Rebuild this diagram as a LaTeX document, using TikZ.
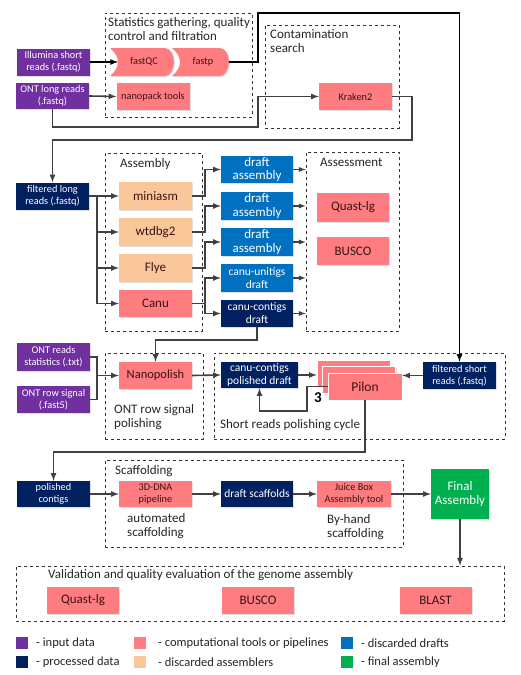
\documentclass[tikz,border=0pt]{standalone}
\usepackage{fontspec}
\setmainfont{Carlito}
\usetikzlibrary{shadows}
\definecolor{inputc}{HTML}{7030A0}
\definecolor{procc}{HTML}{002060}
\definecolor{toolc}{HTML}{FF7C80}
\definecolor{asmc}{HTML}{F9C79A}
\definecolor{draftc}{HTML}{0070C0}
\definecolor{finalc}{HTML}{00B050}
\definecolor{linec}{HTML}{404040}
\definecolor{tooltext}{HTML}{3A1414}
\newcommand{\fsmall}{\fontsize{10.3}{12}\selectfont}
\newcommand{\fmid}{\fontsize{11.5}{13}\selectfont}
\newcommand{\fbig}{\fontsize{13}{14}\selectfont}
\tikzset{
  box/.style={minimum width=73, minimum height=27, inner sep=0.5pt, align=center,
    drop shadow={shadow xshift=1pt, shadow yshift=-1pt, opacity=0.25}},
  inbox/.style={box, fill=inputc, text=white, font=\fsmall},
  procbox/.style={box, fill=procc, text=white, font=\fsmall},
  toolbox/.style={box, fill=toolc, text=tooltext, font=\fmid},
  asmbox/.style={box, fill=asmc, text=tooltext, font=\fbig},
  draftbox/.style={box, fill=draftc, text=white, font=\fbig},
  finalbox/.style={box, fill=finalc, text=white, font=\fbig},
  grp/.style={draw=black!80, dashed, line width=0.9pt, inner sep=0pt},
  grptitle/.style={anchor=north west, align=left, inner sep=0pt, font=\fbig, text=black!85},
  conn/.style={draw=linec, line width=1.6pt, -latex},
  legsq/.style={minimum size=12, inner sep=0pt},
  legtext/.style={anchor=west, inner sep=0pt, font=\fontsize{12.5}{14}\selectfont, text=black!85},
}
\begin{document}
\begin{tikzpicture}[x=1pt,y=-1pt]
\useasboundingbox[fill=white] (0,0) rectangle (520,675);
% groups
\node[grp, minimum width=147, minimum height=104] (statgrp) at (178.5,65) {};
\node[grptitle] (stattitle) at (108,17) {Statistics gathering, quality\\control and filtration};
\node[grp, minimum width=134, minimum height=103] (contgrp) at (332,76.5) {};
\node[grptitle] (conttitle) at (270,29) {Contamination\\search};
\node[grp, minimum width=97, minimum height=178] (asmgrp) at (153.5,242) {};
\node[grptitle] (asmtitle) at (120,158) {Assembly};
\node[grp, minimum width=93, minimum height=179] (assgrp) at (352.5,241.5) {};
\node[grptitle] (asstitle) at (320,158) {Assessment};
\node[grp, minimum width=98, minimum height=86] (npgrp) at (154,396) {};
\node[grptitle] (nptitle) at (114,404) {ONT row signal\\polishing};
\node[grp, minimum width=291, minimum height=86] (srgrp) at (359.5,396) {};
\node[grptitle] (srtitle) at (220,419) {Short reads polishing cycle};
\node[grp, minimum width=298, minimum height=87] (scafgrp) at (254,503.5) {};
\node[grptitle] (scaftitle) at (115,465) {Scaffolding};
\node[grp, minimum width=488, minimum height=55] (valgrp) at (260,593.5) {};
\node[grptitle] (valtitle) at (48,569) {Validation and quality evaluation of the genome assembly};

% statistics and filtration
\node[inbox] (ill) at (53.5,62) {Illumina short\\reads (.fastq)};
\node[inbox, minimum height=26] (ontl) at (52.5,96) {ONT long reads\\(.fastq)};
\fill[toolc, drop shadow={shadow xshift=1pt, shadow yshift=-1pt, opacity=0.25}]
  (110,48) -- (165,48) .. controls (170,48) and (174,55) .. (174,62)
  .. controls (174,69) and (170,76) .. (165,76) -- (110,76)
  .. controls (115,72) and (118,67) .. (118,62) .. controls (118,57) and (115,52) .. (110,48) -- cycle;
\fill[toolc, drop shadow={shadow xshift=1pt, shadow yshift=-1pt, opacity=0.25}]
  (172,48) -- (220,48) .. controls (225,48) and (229,55) .. (229,62)
  .. controls (229,69) and (225,76) .. (220,76) -- (172,76)
  .. controls (177,72) and (180,67) .. (180,62) .. controls (180,57) and (177,52) .. (172,48) -- cycle;
\node[font=\fsmall, text=tooltext] (fastqc) at (144,62) {fastQC};
\node[font=\fsmall, text=tooltext] (fastp) at (203,62) {fastp};
\coordinate (fastpout) at (229,62);
\coordinate (fastqcin) at (118,62);
\node[toolbox, font=\fsmall] (nanopack) at (153,96.5) {nanopack tools};
\node[toolbox, font=\fsmall] (kraken) at (355.5,96.5) {Kraken2};

% assembly
\node[procbox] (flong) at (52.5,196) {filtered long\\reads (.fastq)};
\node[asmbox, minimum height=28] (miniasm) at (155.5,196) {miniasm};
\node[asmbox, minimum height=28] (wtdbg) at (155.5,232) {wtdbg2};
\node[asmbox, minimum height=28] (flye) at (155.5,268) {Flye};
\node[toolbox, font=\fbig] (canu) at (155.5,303.5) {Canu};
\node[draftbox, minimum width=72, font=\fontsize{13}{13.5}\selectfont] (drafta) at (257,169.5) {draft\\assembly};
\node[draftbox, minimum width=72, minimum height=28, font=\fontsize{13}{13.5}\selectfont] (draftb) at (257,206) {draft\\assembly};
\node[draftbox, minimum width=72, minimum height=28, font=\fontsize{13}{13.5}\selectfont] (draftc) at (257,242) {draft\\assembly};
\node[draftbox, minimum width=72, minimum height=28, font=\fmid] (unitigs) at (257,278) {canu-unitigs\\draft};
\node[procbox, minimum width=72, font=\fmid] (contigs) at (257,313.5) {canu-contigs\\draft};
\node[toolbox, font=\fbig, minimum width=72, minimum height=29] (quasta) at (353,207.5) {Quast-lg};
\node[toolbox, font=\fbig, minimum width=72, minimum height=28] (buscoa) at (353,251) {BUSCO};

% polishing
\node[inbox, minimum height=28] (stats) at (53.5,357) {ONT reads\\statistics (.txt)};
\node[inbox] (signal) at (53.5,399.5) {ONT row signal\\(.fast5)};
\node[toolbox, font=\fontsize{12.5}{14}\selectfont] (npolish) at (155.5,375.5) {Nanopolish};
\node[procbox, minimum width=77, minimum height=26, font=\fmid] (pdraft) at (259.5,375) {canu-contigs\\polished draft};
\node[toolbox, draw=white, line width=0.6pt] (pilona) at (353.5,373.5) {};
\node[toolbox, draw=white, line width=0.6pt] (pilonb) at (359,380) {};
\node[toolbox, draw=white, line width=0.6pt, minimum width=74, font=\fontsize{13.5}{14}\selectfont] (pilonc) at (365,386.5) {Pilon};
\node[procbox] (fshort) at (459.5,375.5) {filtered short\\reads (.fastq)};
\node[font=\bfseries\fontsize{15}{15}\selectfont, inner sep=0pt] (cycles) at (318,398) {3};

% scaffolding
\node[procbox, minimum height=26] (pcontigs) at (53.5,494) {polished\\contigs};
\node[toolbox, minimum height=26, font=\fsmall] (dna) at (155.5,494) {3D-DNA\\pipeline};
\node[procbox, minimum width=72, minimum height=26, font=\fmid] (dscaf) at (257,494) {draft scaffolds};
\node[toolbox, minimum width=74, minimum height=26, font=\fsmall] (juice) at (354,494) {Juice Box\\Assembly tool};
\node[finalbox, minimum width=58, minimum height=50] (final) at (460,494) {Final\\Assembly};
\node[grptitle] (autotext) at (127,513) {automated\\scaffolding};
\node[grptitle] (handtext) at (327,514) {By-hand\\scaffolding};

% validation
\node[toolbox, font=\fbig, minimum width=72] (vquast) at (83,600.5) {Quast-lg};
\node[toolbox, font=\fbig, minimum width=72] (vbusco) at (258,600.5) {BUSCO};
\node[toolbox, font=\fbig, minimum width=72] (vblast) at (435.5,600.5) {BLAST};

% legend
\node[legsq, fill=inputc] (lin) at (22,643) {};
\node[legtext] (lintext) at (36,643) {- input data};
\node[legsq, fill=procc] (lproc) at (22,662) {};
\node[legtext] (lproctext) at (36,662) {- processed data};
\node[legsq, fill=toolc] (ltool) at (139.5,643) {};
\node[legtext] (ltooltext) at (158,643) {- computational tools or pipelines};
\node[legsq, fill=asmc] (lasm) at (139.5,662) {};
\node[legtext] (lasmtext) at (158,662) {- discarded assemblers};
\node[legsq, fill=draftc] (ldraft) at (346.5,643) {};
\node[legtext] (ldrafttext) at (361,643) {- discarded drafts};
\node[legsq, fill=finalc] (lfinal) at (346.5,662) {};
\node[legtext] (lfinaltext) at (361,662) {- final assembly};

% connectors
\coordinate (topleft) at (258,13);
\coordinate (ontdown) at (258,127);
\coordinate (krakdown) at (412,140);
\coordinate (trunk) at (97,196);
\coordinate (npjoin) at (97,375.5);
\coordinate (ctdown) at (155.5,340);
\coordinate (loop) at (307,411);
\coordinate (pildown) at (53.5,452);
\draw[conn, draw=black] (ill.east) -- (fastqcin);
\draw[conn, draw=black] (fastpout) -| (topleft) -| (fshort.north);
\draw[conn] (ontl.east) -- (nanopack.west);
\draw[conn] (ontl.south) |- (ontdown) |- (kraken.west);
\draw[conn] (kraken.east) -| (krakdown) -| (flong.north);
\draw[conn] (flong.east) -- (miniasm.west);
\draw[conn] (trunk) |- (wtdbg.west);
\draw[conn] (trunk) |- (flye.west);
\draw[conn] (trunk) |- (canu.west);
\draw[conn] (miniasm.east) -- ++(13,0) |- (drafta.west);
\draw[conn] (wtdbg.east) -- ++(13,0) |- (draftb.west);
\draw[conn] (flye.east) -- ++(13,0) |- (draftc.west);
\draw[conn] (canu.east) -- ++(13,0) |- (unitigs.west);
\draw[conn] (canu.east) -- ++(13,0) |- (contigs.west);
\foreach \d in {drafta,draftb,draftc,unitigs,contigs}
  \draw[conn, line width=1.3pt] (\d.east) -- (\d.east -| assgrp.west);
\draw[conn] (contigs.south) |- (ctdown) -- (npolish.north);
\draw[conn, -] (stats.east) -| (npjoin);
\draw[conn, -] (signal.east) -| (npjoin);
\draw[conn] (npjoin) -- (npolish.west);
\draw[conn] (npolish.east) -- (pdraft.west);
\draw[conn] (pdraft.east) -- (pdraft.east -| pilona.west);
\draw[conn] (fshort.west) -- (fshort.west -| pilonc.east);
\draw[conn] (pilonc.west) -| (loop) -| (pdraft.south);
\draw[conn] (pilonc.south) |- (pildown) -- (pcontigs.north);
\draw[conn] (pcontigs.east) -- (dna.west);
\draw[conn] (dna.east) -- (dscaf.west);
\draw[conn] (dscaf.east) -- (juice.west);
\draw[conn] (juice.east) -- (final.west);
\draw[conn] (final.south) -- (final.south |- valgrp.north);
\end{tikzpicture}
\end{document}
